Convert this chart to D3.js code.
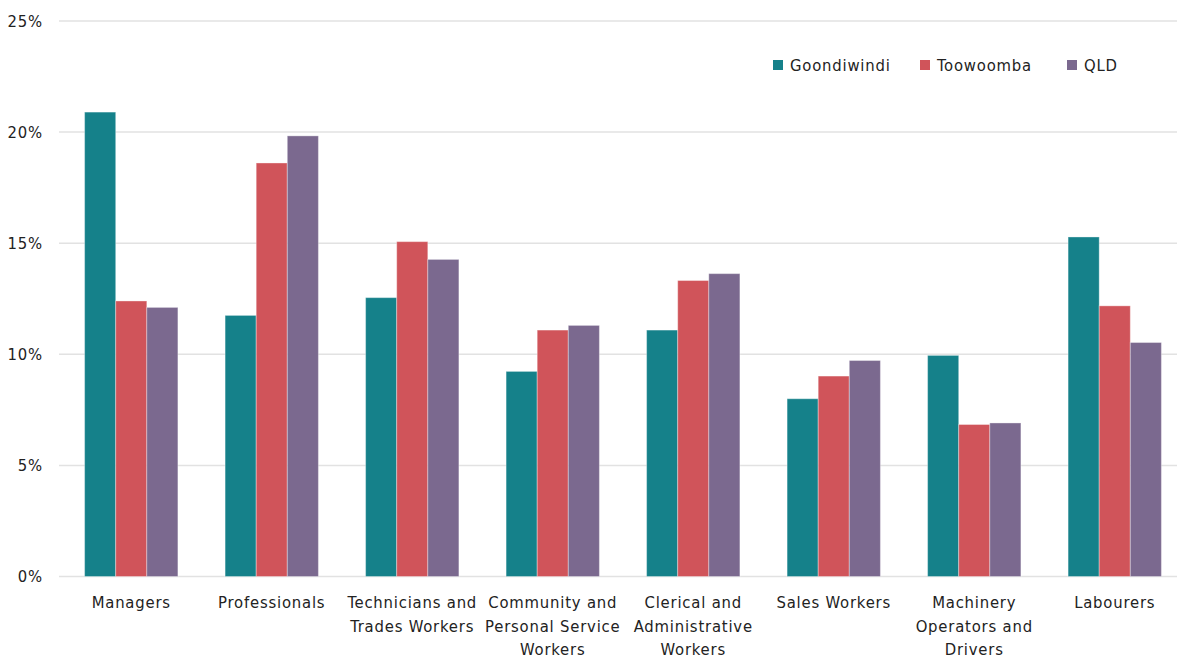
<!DOCTYPE html>
<html>
<head>
<meta charset="utf-8">
<script src="https://cdn.jsdelivr.net/npm/d3@7"></script>
<style>
  html, body { margin: 0; padding: 0; background: #fff; }
  svg { display: block; font-family: "DejaVu Sans Condensed", "DejaVu Sans", sans-serif; }
  svg text { letter-spacing: 0.8px; }
</style>
</head>
<body>
<svg id="chart" width="1177" height="659"></svg>
<script>
// Occupation shares (% of employed persons)
const categories = [
  "Managers", "Professionals", "Technicians and Trades Workers",
  "Community and Personal Service Workers", "Clerical and Administrative Workers",
  "Sales Workers", "Machinery Operators and Drivers", "Labourers"
];
const categoryLines = [
  ["Managers"],
  ["Professionals"],
  ["Technicians and", "Trades Workers"],
  ["Community and", "Personal Service", "Workers"],
  ["Clerical and", "Administrative", "Workers"],
  ["Sales Workers"],
  ["Machinery", "Operators and", "Drivers"],
  ["Labourers"]
];
const seriesNames = ["Goondiwindi", "Toowoomba", "QLD"];
const goondiwindi = [20.9, 11.75, 12.55, 9.23, 11.09, 8.0, 9.95, 15.28];
const toowoomba   = [12.4, 18.61, 15.07, 11.09, 13.32, 9.02, 6.84, 12.18];
const qld         = [12.11, 19.83, 14.27, 11.3, 13.63, 9.72, 6.91, 10.53];
const yTicks = [0, 5, 10, 15, 20, 25];
const colors = ["#15818A", "#D0545A", "#7B698F"];

const seriesValues = [goondiwindi, toowoomba, qld];

const svg = d3.select("#chart");
const plot = { left: 59, right: 1177, top: 21, bottom: 576.5 };
const fontSize = 16.5;
const textColor = "#222";

const y = d3.scaleLinear().domain([0, 25]).range([plot.bottom, plot.top]);
const x0 = d3.scaleBand().domain(categories).range([61, 1185]).paddingInner(0.336).paddingOuter(0.168);
const x1 = d3.scaleBand().domain(seriesNames).range([0, x0.bandwidth()]);

// gridlines
svg.append("g")
  .selectAll("line")
  .data(yTicks)
  .join("line")
  .attr("x1", plot.left).attr("x2", plot.right)
  .attr("y1", d => y(d)).attr("y2", d => y(d))
  .attr("stroke", "#e2e2e2").attr("stroke-width", 1.5);

// y axis labels
const yAxis = d3.axisLeft(y).tickValues(yTicks).tickFormat(d => d + "%").tickSize(0).tickPadding(0);
const gy = svg.append("g").attr("transform", "translate(43,0)").call(yAxis);
gy.select(".domain").remove();
gy.selectAll("text")
  .attr("font-size", fontSize).attr("fill", textColor)
  .style("font-family", "'DejaVu Sans Condensed', 'DejaVu Sans', sans-serif");

// bars
const groups = svg.append("g")
  .selectAll("g")
  .data(categories)
  .join("g")
  .attr("transform", d => `translate(${x0(d)},0)`);

groups.selectAll("rect")
  .data((d, i) => seriesNames.map((s, j) => ({ s, v: seriesValues[j][i], j })))
  .join("rect")
  .attr("x", d => x1(d.s))
  .attr("width", x1.bandwidth())
  .attr("y", d => y(d.v))
  .attr("height", d => y(0) - y(d.v))
  .attr("fill", d => colors[d.j])
  .attr("stroke", "rgba(255,255,255,0.35)")
  .attr("stroke-width", 1);

// category labels
const xl = svg.append("g");
categories.forEach((c, i) => {
  const cx = x0(c) + x0.bandwidth() / 2;
  const t = xl.append("text")
    .attr("x", cx).attr("y", 608)
    .attr("text-anchor", "middle")
    .attr("font-size", fontSize).attr("fill", textColor);
  categoryLines[i].forEach((line, k) => {
    t.append("tspan").attr("x", cx).attr("dy", k === 0 ? 0 : 23.5).text(line);
  });
});

// legend
const legendX = [773, 920, 1067];
const lg = svg.append("g");
seriesNames.forEach((s, i) => {
  lg.append("rect").attr("x", legendX[i]).attr("y", 60).attr("width", 10).attr("height", 10)
    .attr("fill", colors[i]);
  lg.append("text").attr("x", legendX[i] + 17).attr("y", 71)
    .attr("font-size", fontSize).attr("fill", textColor).text(s);
});
</script>
</body>
</html>
